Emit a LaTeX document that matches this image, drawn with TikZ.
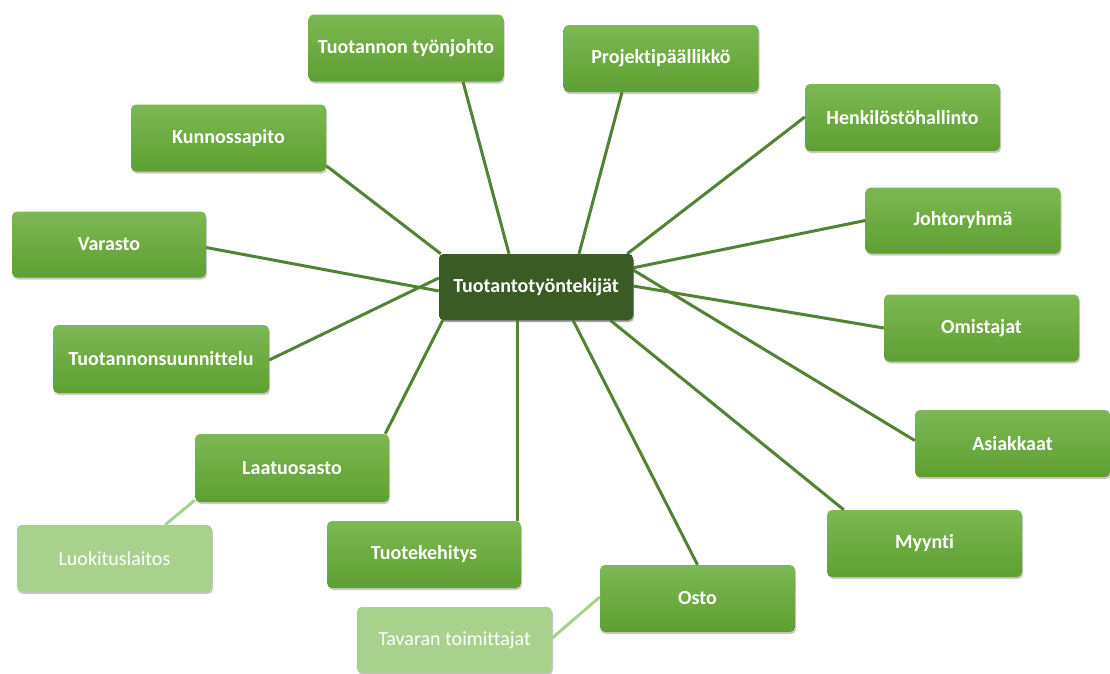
\documentclass[tikz,border=0pt]{standalone}
\usepackage{fontspec}
\setmainfont{Carlito}[Ligatures=NoCommon]
\usetikzlibrary{shadows}
\definecolor{gtop}{HTML}{7DB852}
\definecolor{gbot}{HTML}{5E9F32}
\definecolor{dark}{HTML}{3A5C24}
\definecolor{lightg}{HTML}{A9D18E}
\definecolor{linec}{HTML}{548235}
\tikzset{
  box/.style={rectangle, rounded corners=5pt, top color=gtop, bottom color=gbot,
    draw=none, text=white, font=\fontsize{20}{24}\selectfont\bfseries,
    minimum width=195pt, minimum height=67pt, inner sep=0pt,
    drop shadow={shadow xshift=1pt, shadow yshift=-2pt, opacity=0.35, fill=black!60}},
  hub/.style={box, top color=dark, bottom color=dark, fill=dark},
  lbox/.style={box, top color=lightg, bottom color=lightg, fill=lightg, font=\fontsize{20}{24}\selectfont},
  conn/.style={draw=linec, line width=3pt},
  lconn/.style={draw=lightg, line width=3pt},
}
\begin{document}
\begin{tikzpicture}[x=1pt,y=-1pt]
\useasboundingbox (0,0) rectangle (1110,673);
% central node
\node[hub, minimum width=194pt, minimum height=66pt] (c) at (536,287) {Tuotantotyöntekijät};
% boxes
\node[box] (tt) at (406,48) {Tuotannon työnjohto};
\node[box] (pp) at (661,58.5) {Projektipäällikkö};
\node[box] (hh) at (902.5,117.5) {Henkilöstöhallinto};
\node[box] (kp) at (228.5,138) {Kunnossapito};
\node[box, minimum height=66pt] (jr) at (963,220.5) {Johtoryhmä};
\node[box, minimum width=194pt, minimum height=66pt] (va) at (109,244.5) {Varasto};
\node[box] (om) at (981.5,328) {Omistajat};
\node[box, minimum width=216pt, minimum height=68pt] (ts) at (161,359) {Tuotannonsuunnittelu};
\node[box] (as) at (1012.5,443.5) {Asiakkaat};
\node[box, minimum width=194pt, minimum height=68pt] (la) at (292,468) {Laatuosasto};
\node[lbox] (lu) at (114.5,558.5) {Luokituslaitos};
\node[box, minimum width=194pt] (tk) at (424,554.5) {Tuotekehitys};
\node[box] (my) at (924.5,543.5) {Myynti};
\node[box] (os) at (697.5,598.5) {Osto};
\node[lbox, minimum height=66pt] (tv) at (454.5,640) {Tavaran toimittajat};
% connectors
\draw[conn] ([xshift=57pt]tt.south) -- ([xshift=-27pt]c.north);
\draw[conn] ([xshift=-39pt]pp.south) -- ([xshift=43pt]c.north);
\draw[conn] ([yshift=0.5pt]hh.west) -- ([xshift=-6pt]c.north east);
\draw[conn] ([yshift=6pt]kp.south east) -- ([xshift=2pt]c.north west);
\draw[conn] (jr.west) -- ([yshift=-14pt]c.north east);
\draw[conn] ([yshift=-3pt]va.east) -- ([yshift=-4pt]c.west);
\draw[conn] (om.west) -- ([yshift=1pt]c.east);
\draw[conn] ([yshift=-1pt]ts.east) -- ([yshift=9pt]c.west);
\draw[conn] ([yshift=3pt]as.west) -- ([yshift=17pt]c.east);
\draw[conn] ([xshift=-4pt]la.north east) -- ([xshift=4pt]c.south west);
\draw[conn] ([xshift=93pt]tk.north) -- ([xshift=-19pt]c.south);
\draw[conn] (os.north) -- ([xshift=37pt]c.south);
\draw[conn] ([xshift=17pt]my.north west) -- ([xshift=-23pt]c.south east);
\draw[lconn] ([xshift=-47pt]lu.north east) -- ([yshift=2pt]la.south west);
\draw[lconn] ([yshift=2pt]tv.east) -- ([yshift=1.5pt]os.west);
% redraw hub over line ends
\node[hub, minimum width=194pt, minimum height=66pt] at (c) {Tuotantotyöntekijät};
\end{tikzpicture}
\end{document}
